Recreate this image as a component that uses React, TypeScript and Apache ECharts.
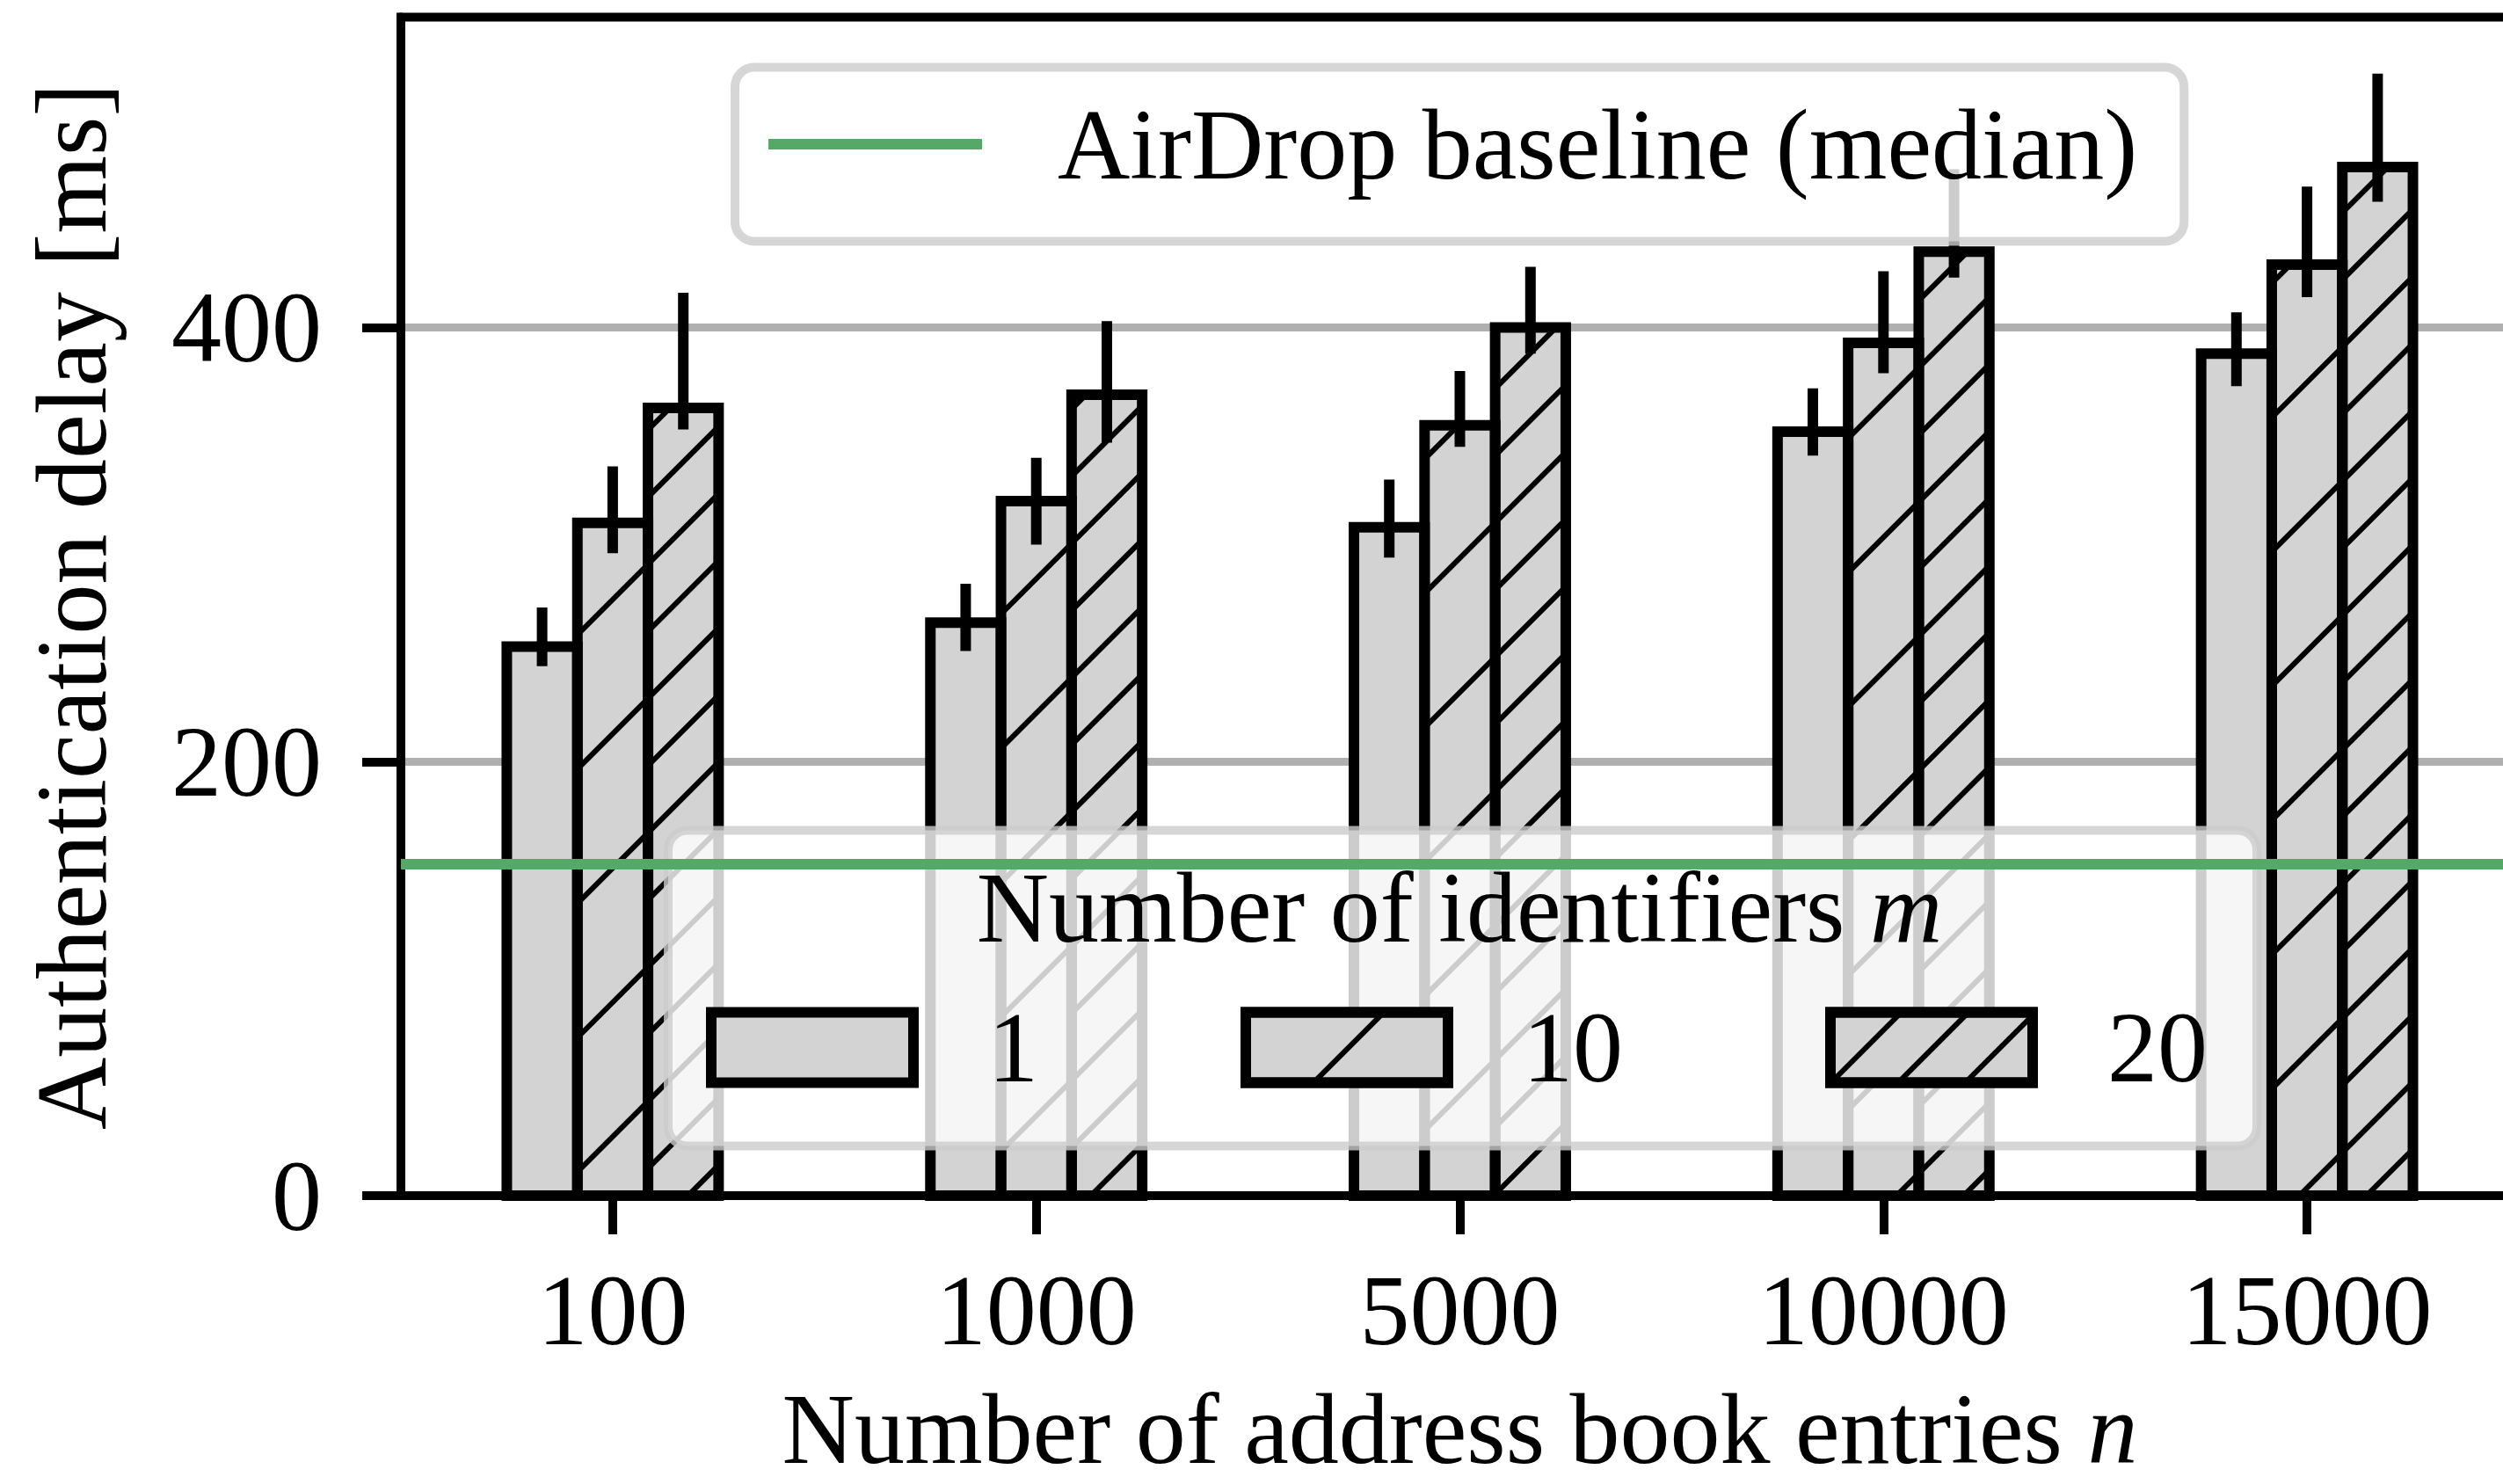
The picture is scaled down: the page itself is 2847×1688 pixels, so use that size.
import React, { useEffect, useRef } from 'react';
import * as echarts from 'echarts';

// ---- data ----
const categories = ['100', '1000', '5000', '10000', '15000'];
const identifierCounts = ['1', '10', '20'];
const meanM1 = [253, 264, 308, 352, 388];
const meanM10 = [310, 320, 355, 393, 429];
const meanM20 = [363, 369, 400, 435, 474];
const lowM1 = [244, 251, 294, 341, 373];
const highM1 = [271, 282, 330, 372, 407];
const lowM10 = [296, 300, 345, 379, 414];
const highM10 = [336, 340, 380, 426, 465];
const lowM20 = [353, 347, 388, 423, 458];
const highM20 = [416, 403, 428, 473, 517];
const baselineMedian = 153;
const baselineName = 'AirDrop baseline (median)';
const yTickValues = [0, 200, 400];
const yMax = 543;

const FONT = "'Liberation Serif', 'Times New Roman', 'DejaVu Serif', serif";
const FS = 114;
const BAR_FRAC = 1 / 6;
const GREEN = '#55A868';

const means = [meanM1, meanM10, meanM20];
const lows = [lowM1, lowM10, lowM20];
const highs = [highM1, highM10, highM20];
const hatchPeriods = [0, 108, 54];

const hatchDecal = (period: number) => ({
  symbol: 'rect',
  symbolSize: 1,
  symbolKeepAspect: false,
  dashArrayX: [20, 0],
  dashArrayY: [6, period - 6],
  rotation: -Math.PI / 4,
  color: '#000',
});

const txt = (extra: any = {}) => ({
  fontFamily: FONT,
  fontSize: FS,
  color: '#000',
  fontWeight: 'normal',
  lineHeight: FS,
  ...extra,
});

export default function App() {
  const ref = useRef<HTMLDivElement>(null);

  useEffect(() => {
    if (!ref.current) return;
    const chart = echarts.init(ref.current, null, { renderer: 'svg' });

    // bar fills (+ hatch decal)
    const barSeries = identifierCounts.map((name, k) => ({
      type: 'bar',
      name,
      data: means[k],
      barWidth: `${100 * BAR_FRAC}%`,
      barGap: '0%',
      silent: true,
      z: 2,
      itemStyle: {
        color: '#d3d3d3',
        borderWidth: 0,
        ...(hatchPeriods[k] ? { decal: hatchDecal(hatchPeriods[k]) } : {}),
      },
    }));

    // bar outlines (centred on the bar edge) and error bars
    const errSeries = identifierCounts.map((name, k) => ({
      type: 'custom',
      name: `err-${name}`,
      data: categories.map((_, i) => [i, means[k][i], lows[k][i], highs[k][i]]),
      encode: { x: 0, y: [1, 2, 3] },
      silent: true,
      z: 3,
      renderItem: (params: any, api: any) => {
        const i = api.value(0);
        const band = api.size([1, 0])[0];
        const bw = band * BAR_FRAC;
        const x = api.coord([i, 0])[0] + (k - 1) * bw;
        const y0 = api.coord([i, 0])[1];
        const yTop = api.coord([i, api.value(1)])[1];
        const y1 = api.coord([i, api.value(2)])[1];
        const y2 = api.coord([i, api.value(3)])[1];
        return {
          type: 'group',
          children: [
            {
              type: 'rect',
              shape: { x: x - bw / 2, y: yTop, width: bw, height: y0 - yTop },
              style: { fill: 'none', stroke: '#000', lineWidth: 12, lineJoin: 'miter' },
            },
            {
              type: 'line',
              shape: { x1: x, y1, x2: x, y2 },
              style: { stroke: '#000', lineWidth: 12, lineCap: 'butt' },
            },
          ],
        };
      },
    }));

    const option: any = {
      animation: false,
      backgroundColor: '#fff',
      textStyle: { fontFamily: FONT },
      title: {
        text: 'Number of identifiers {i|m}',
        left: 1660,
        top: 975.5,
        textAlign: 'center',
        textVerticalAlign: 'top',
        padding: 0,
        z: 6,
        textStyle: txt({
          rich: { i: txt({ fontStyle: 'italic' }) },
        }),
      },
      grid: {
        left: 456,
        right: -18,
        top: 19.6,
        bottom: 328,
        show: true,
        borderColor: '#000',
        borderWidth: 10,
        backgroundColor: 'transparent',
        containLabel: false,
        outerBoundsMode: 'none',
      },
      legend: [
        {
          data: [baselineName],
          left: 836,
          top: 76.5,
          orient: 'horizontal',
          icon: 'rect',
          itemWidth: 243,
          itemHeight: 12,
          padding: [30.5, 53, 53.5, 38],
          backgroundColor: 'rgba(255,255,255,0.8)',
          borderColor: 'rgba(204,204,204,0.8)',
          borderWidth: 10,
          borderRadius: 22,
          selectedMode: false,
          itemStyle: { color: GREEN, borderWidth: 0 },
          textStyle: txt({ padding: [0, 0, 0, 81] }),
        },
        {
          data: identifierCounts,
          left: 760,
          top: 944.5,
          orient: 'horizontal',
          icon: 'rect',
          itemWidth: 230,
          itemHeight: 80,
          itemGap: 230,
          padding: [190, 56, 55, 43],
          backgroundColor: 'rgba(255,255,255,0.8)',
          borderColor: 'rgba(204,204,204,0.8)',
          borderWidth: 10,
          borderRadius: 22,
          selectedMode: false,
          itemStyle: { borderWidth: 12, borderColor: '#000' },
          textStyle: txt({ padding: [0, 0, 0, 80] }),
        },
      ],
      xAxis: {
        type: 'category',
        data: categories,
        boundaryGap: true,
        name: 'Number of address book entries {i|n}',
        nameLocation: 'middle',
        nameGap: 225,
        nameTextStyle: txt({ lineHeight: 80, rich: { i: txt({ fontStyle: 'italic', lineHeight: 80 }) } }),
        axisLine: { show: true, lineStyle: { color: '#000', width: 10 } },
        axisTick: {
          show: true,
          alignWithLabel: true,
          length: 44,
          lineStyle: { color: '#000', width: 10 },
        },
        axisLabel: txt({ margin: 73, interval: 0 }),
        splitLine: { show: false },
      },
      yAxis: {
        type: 'value',
        min: 0,
        max: yMax,
        interval: 200,
        name: 'Authentication delay [ms]',
        nameLocation: 'middle',
        nameGap: 318,
        nameTextStyle: txt(),
        axisLine: { show: true, lineStyle: { color: '#000', width: 10 } },
        axisTick: {
          show: true,
          length: 44,
          lineStyle: { color: '#000', width: 10 },
          customValues: yTickValues,
        },
        axisLabel: txt({
          margin: 90,
          customValues: yTickValues,
          formatter: (v: number) => (yTickValues.includes(v) ? String(v) : ''),
        }),
        splitLine: { show: true, lineStyle: { color: '#b0b0b0', width: 9 } },
      },
      series: [
        ...barSeries,
        ...errSeries,
        {
          type: 'line',
          name: baselineName,
          data: [],
          color: GREEN,
          silent: true,
          z: 10,
          markLine: {
            silent: true,
            z: 10,
            symbol: ['none', 'none'],
            label: { show: false },
            lineStyle: { color: GREEN, width: 12, type: 'solid' },
            emphasis: { disabled: true },
            data: [{ yAxis: baselineMedian }],
          },
        },
      ],
    };

    chart.setOption(option);
    return () => chart.dispose();
  }, []);

  return (
    <div
      ref={ref}
      style={{ position: 'fixed', left: 0, top: 0, width: 2847, height: 1688, background: '#fff' }}
    />
  );
}
